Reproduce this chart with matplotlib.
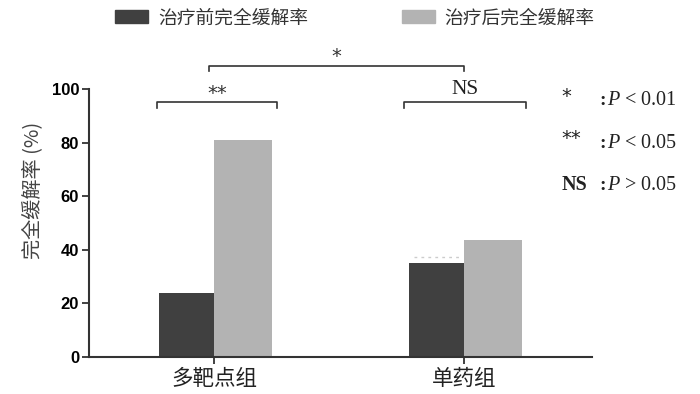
import numpy as np
import matplotlib
matplotlib.use('Agg')
import matplotlib.pyplot as plt
from matplotlib.patches import Patch

plt.rcParams['font.family'] = ['Noto Sans CJK SC', 'DejaVu Sans']
plt.rcParams['mathtext.fontset'] = 'custom'
plt.rcParams['mathtext.it'] = 'Liberation Serif:italic'
plt.rcParams['mathtext.rm'] = 'Liberation Serif'

# data
groups = ['多靶点组', '单药组']
before = [24, 35]
after = [81, 43.5]
series_names = ['治疗前完全缓解率', '治疗后完全缓解率']
yticks = [0, 20, 40, 60, 80, 100]
sig_labels = ['*', '**', 'NS']
sig_text = ['< 0.01', '< 0.05', '> 0.05']

c_dark = '#404040'
c_light = '#b3b3b3'
axcol = '#333333'

fig = plt.figure(figsize=(7, 3.94), dpi=100)
ax = fig.add_axes([0.127, 0.094, 0.719, 0.680])

x = np.arange(len(groups))
w = 0.22
ax.bar(x - w/2, before, width=w, color=c_dark)
ax.bar(x + w/2 + 0.005, after, width=w + 0.01, color=c_light)

# faint dotted mark above second dark bar
ax.hlines(37.3, x[1] - w + 0.02, x[1] - 0.02, colors='#cccccc', linestyles=(0, (2, 3)), lw=1)

ax.set_xlim(-0.5, 1.51)
ax.set_ylim(0, 100)
ax.set_xticks(x)
ax.set_xticklabels(groups, fontsize=15.5, color='#222222')
ax.set_yticks(yticks)
ax.set_yticklabels([str(t) for t in yticks], fontfamily='Liberation Sans',
                   fontweight='bold', fontsize=12)
ax.tick_params(axis='both', color=axcol, width=1.3, length=5)
ax.tick_params(axis='y', pad=2)
ax.tick_params(axis='x', pad=3)
for s in ['top', 'right']:
    ax.spines[s].set_visible(False)
for s in ['left', 'bottom']:
    ax.spines[s].set_color(axcol)
    ax.spines[s].set_linewidth(1.5)

ax.set_ylabel('完全缓解率 (%)', fontsize=14.5, color='#444444')
ax.yaxis.set_label_coords(-0.0915, 0.623)

# significance brackets
def bracket(x0, x1, y, drop, label, ty, **kw):
    ax.plot([x0, x0, x1, x1], [y - drop, y, y, y - drop], color=axcol,
            lw=1.2, clip_on=False)
    ax.text((x0 + x1) / 2, ty, label, ha='center', va='center', clip_on=False, **kw)

bracket(-0.23, 0.252, 95.1, 2.3, '**', 98.3, fontsize=14, fontfamily='DejaVu Sans', color='#333333')
bracket(0.76, 1.244, 95.1, 2.3, 'NS', 99.8, fontsize=15.5, fontfamily='Liberation Serif', color='#222222')
bracket(-0.02, 1.0, 108.6, 2.0, '*', 112.3, fontsize=14, fontfamily='DejaVu Sans', color='#333333')

# p value key on the right
key_y = [0.744, 0.637, 0.530]
for lab, txt, yy in zip(sig_labels, sig_text, key_y):
    if lab == 'NS':
        fig.text(0.802, yy, lab, fontsize=14.5, fontfamily='Liberation Serif', fontweight='bold',
                 ha='left', va='center', color='#222222')
    else:
        fig.text(0.802, yy + 0.012, lab, fontsize=14, fontfamily='DejaVu Sans',
                 ha='left', va='center', color='#222222')
    fig.text(0.856, yy, ':', fontsize=14, fontweight='bold', fontfamily='Liberation Serif',
             ha='left', va='center', color='#222222')
    fig.text(0.867, yy, r'$\mathit{P}$ ' + txt, fontsize=14.5, fontfamily='Liberation Serif',
             ha='left', va='center', color='#222222')

handles = [Patch(color=c_dark), Patch(color=c_light)]
fig.legend(handles, series_names, loc='center left', bbox_to_anchor=(115/700, 0.955), ncol=2,
           frameon=False, fontsize=13.5, handlelength=1.76, handleheight=0.64,
           columnspacing=5.0, handletextpad=0.53, labelcolor='#333333',
           borderpad=0, borderaxespad=0)

fig.savefig('out.png', dpi=100)
